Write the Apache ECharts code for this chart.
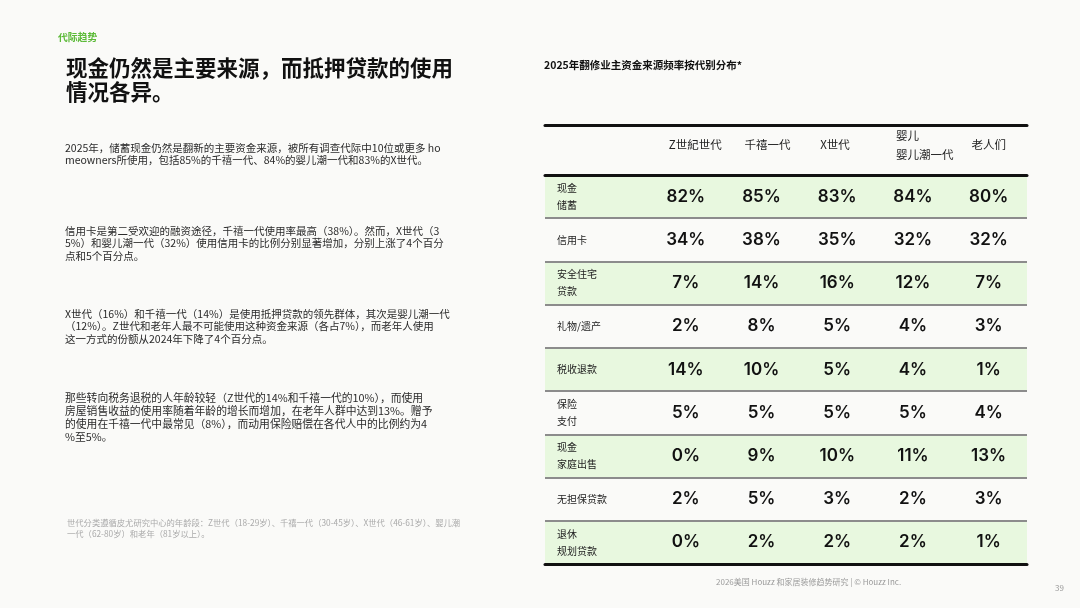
<!DOCTYPE html>
<html>
<head>
<meta charset="utf-8">
<script src="https://cdn.jsdelivr.net/npm/echarts@6/dist/echarts.min.js"></script>
<style>
html, body { margin: 0; padding: 0; background: #fafaf8; }
#main { width: 1080px; height: 608px; }
</style>
</head>
<body>
<div id="main"></div>
<script>
// 表头：各代别
var generations = ['Z世紀世代', '千禧一代', 'X世代', '婴儿\n婴儿潮一代', '老人们'];
// 资金来源（行）
var sources = ['现金\n储蓄', '信用卡', '安全住宅\n贷款', '礼物/遗产', '税收退款', '保险\n支付', '现金\n家庭出售', '无担保贷款', '退休\n规划贷款'];
// 各代别使用比例（%）
var genZ = [82, 34, 7, 2, 14, 5, 0, 2, 0];
var millennials = [85, 38, 14, 8, 10, 5, 9, 5, 2];
var genX = [83, 35, 16, 5, 5, 5, 10, 3, 2];
var boomers = [84, 32, 12, 4, 4, 5, 11, 2, 2];
var seniors = [80, 32, 7, 3, 1, 4, 13, 3, 1];

var columns = [genZ, millennials, genX, boomers, seniors];
var CJK = '"Noto Sans CJK SC", "Noto Sans", sans-serif';

// 表格单元数据 [列, 行, 值]
var cells = [];
for (var c = 0; c < columns.length; c++) {
    for (var r = 0; r < sources.length; r++) {
        cells.push([c, r, columns[c][r]]);
    }
}
var headCells = [];
for (var i = 0; i < generations.length; i++) {
    headCells.push([i, 0]);
}

var chart = echarts.init(document.getElementById('main'));

function xAxisOf(gridIndex, position) {
    return {
        type: 'value',
        gridIndex: gridIndex,
        position: position,
        min: -1.86,
        max: 4.507,
        axisLabel: {show: false},
        axisTick: {show: false},
        splitLine: {show: false},
        axisLine: {show: true, lineStyle: {color: '#111', width: 3}},
        z: 5
    };
}

chart.setOption({
    backgroundColor: '#fafaf8',
    animation: false,
    grid: [
        {left: 545, right: 53, top: 125, height: 50},
        {left: 545, right: 53, top: 175, bottom: 44}
    ],
    xAxis: [
        xAxisOf(0, 'top'),
        xAxisOf(1, 'top'),
        xAxisOf(1, 'bottom')
    ],
    yAxis: [
        {
            type: 'category',
            gridIndex: 0,
            data: [''],
            axisLine: {show: false},
            axisTick: {show: false},
            axisLabel: {show: false},
            splitLine: {show: false}
        },
        {
            type: 'category',
            gridIndex: 1,
            data: sources,
            inverse: true,
            z: 2,
            axisLine: {show: false},
            axisTick: {show: false},
            axisLabel: {
                inside: true,
                margin: 12,
                align: 'left',
                fontFamily: CJK,
                fontSize: 10,
                lineHeight: 17,
                color: '#222'
            },
            splitLine: {show: true, lineStyle: {color: '#8c8c8c', width: 2}},
            splitArea: {show: true, areaStyle: {color: ['#e8f8df', 'rgba(0,0,0,0)']}}
        }
    ],
    series: [
        {
            // 表头
            type: 'custom',
            xAxisIndex: 0,
            yAxisIndex: 0,
            data: headCells,
            silent: true,
            renderItem: function(params, api) {
                var p = api.coord([api.value(0), api.value(1)]);
                return {
                    type: 'text',
                    x: p[0] - 17,
                    y: p[1] - 5,
                    style: {
                        text: generations[params.dataIndex],
                        textAlign: 'left',
                        textVerticalAlign: 'middle',
                        fontFamily: CJK,
                        fontSize: 11.5,
                        lineHeight: 19,
                        fill: '#222'
                    }
                };
            }
        },
        {
            // 数值
            type: 'custom',
            xAxisIndex: 1,
            yAxisIndex: 1,
            data: cells,
            silent: true,
            renderItem: function(params, api) {
                var p = api.coord([api.value(0), api.value(1)]);
                return {
                    type: 'text',
                    x: p[0],
                    y: p[1],
                    style: {
                        text: api.value(2) + '%',
                        textAlign: 'center',
                        textVerticalAlign: 'middle',
                        fontFamily: 'Inter, Lato, sans-serif',
                        fontWeight: 600,
                        fontSize: 17,
                        fill: '#111'
                    }
                };
            }
        }
    ],
    graphic: [
        {type: 'text', left: 58, top: 32, style: {text: '代际趋势', fontFamily: CJK, fontSize: 9.8, fontWeight: 'bold', fill: '#5cba38'}},
        {type: 'text', left: 66, top: 56, style: {text: '现金仍然是主要来源，而抵押贷款的使用\n情况各异。', fontFamily: CJK, fontSize: 21.5, fontWeight: 'bold', lineHeight: 24, fill: '#111'}},
        {type: 'text', left: 65, top: 142, style: {
            text: '2025年，储蓄现金仍然是翻新的主要资金来源，被所有调查代际中10位或更多 ho\nmeowners所使用，包括85%的千禧一代、84%的婴儿潮一代和83%的X世代。',
            fontFamily: CJK, fontSize: 10.5, lineHeight: 12.3, fill: '#2a2a2a'}},
        {type: 'text', left: 65, top: 225, style: {
            text: '信用卡是第二受欢迎的融资途径，千禧一代使用率最高（38%）。然而，X世代（3\n5%）和婴儿潮一代（32%）使用信用卡的比例分别显著增加，分别上涨了4个百分\n点和5个百分点。',
            fontFamily: CJK, fontSize: 10.5, lineHeight: 12.3, fill: '#2a2a2a'}},
        {type: 'text', left: 65, top: 308, style: {
            text: 'X世代（16%）和千禧一代（14%）是使用抵押贷款的领先群体，其次是婴儿潮一代\n（12%）。Z世代和老年人最不可能使用这种资金来源（各占7%），而老年人使用\n这一方式的份额从2024年下降了4个百分点。',
            fontFamily: CJK, fontSize: 10.5, lineHeight: 12.3, fill: '#2a2a2a'}},
        {type: 'text', left: 65, top: 391, style: {
            text: '那些转向税务退税的人年龄较轻（Z世代的14%和千禧一代的10%），而使用\n房屋销售收益的使用率随着年龄的增长而增加，在老年人群中达到13%。赠予\n的使用在千禧一代中最常见（8%），而动用保险赔偿在各代人中的比例约为4\n%至5%。',
            fontFamily: CJK, fontSize: 10.8, lineHeight: 13, fill: '#2a2a2a'}},
        {type: 'text', left: 67, top: 517, style: {
            text: '世代分类遵循皮尤研究中心的年龄段：Z世代（18-29岁）、千禧一代（30-45岁）、X世代（46-61岁）、婴儿潮\n一代（62-80岁）和老年（81岁以上）。',
            fontFamily: CJK, fontSize: 8.3, lineHeight: 11.5, fill: '#aaaaaa'}},
        {type: 'text', left: 544, top: 60, style: {text: '2025年翻修业主资金来源频率按代别分布*', fontFamily: CJK, fontSize: 10.5, fontWeight: 'bold', fill: '#111'}},
        {type: 'text', left: 716, top: 578, style: {text: '2026美国 Houzz 和家居装修趋势研究 | © Houzz Inc.', fontFamily: CJK, fontSize: 8, fill: '#9a9a9a'}},
        {type: 'text', left: 1055, top: 584, style: {text: '39', fontFamily: CJK, fontSize: 8, fill: '#9a9a9a'}}
    ]
});
</script>
</body>
</html>
